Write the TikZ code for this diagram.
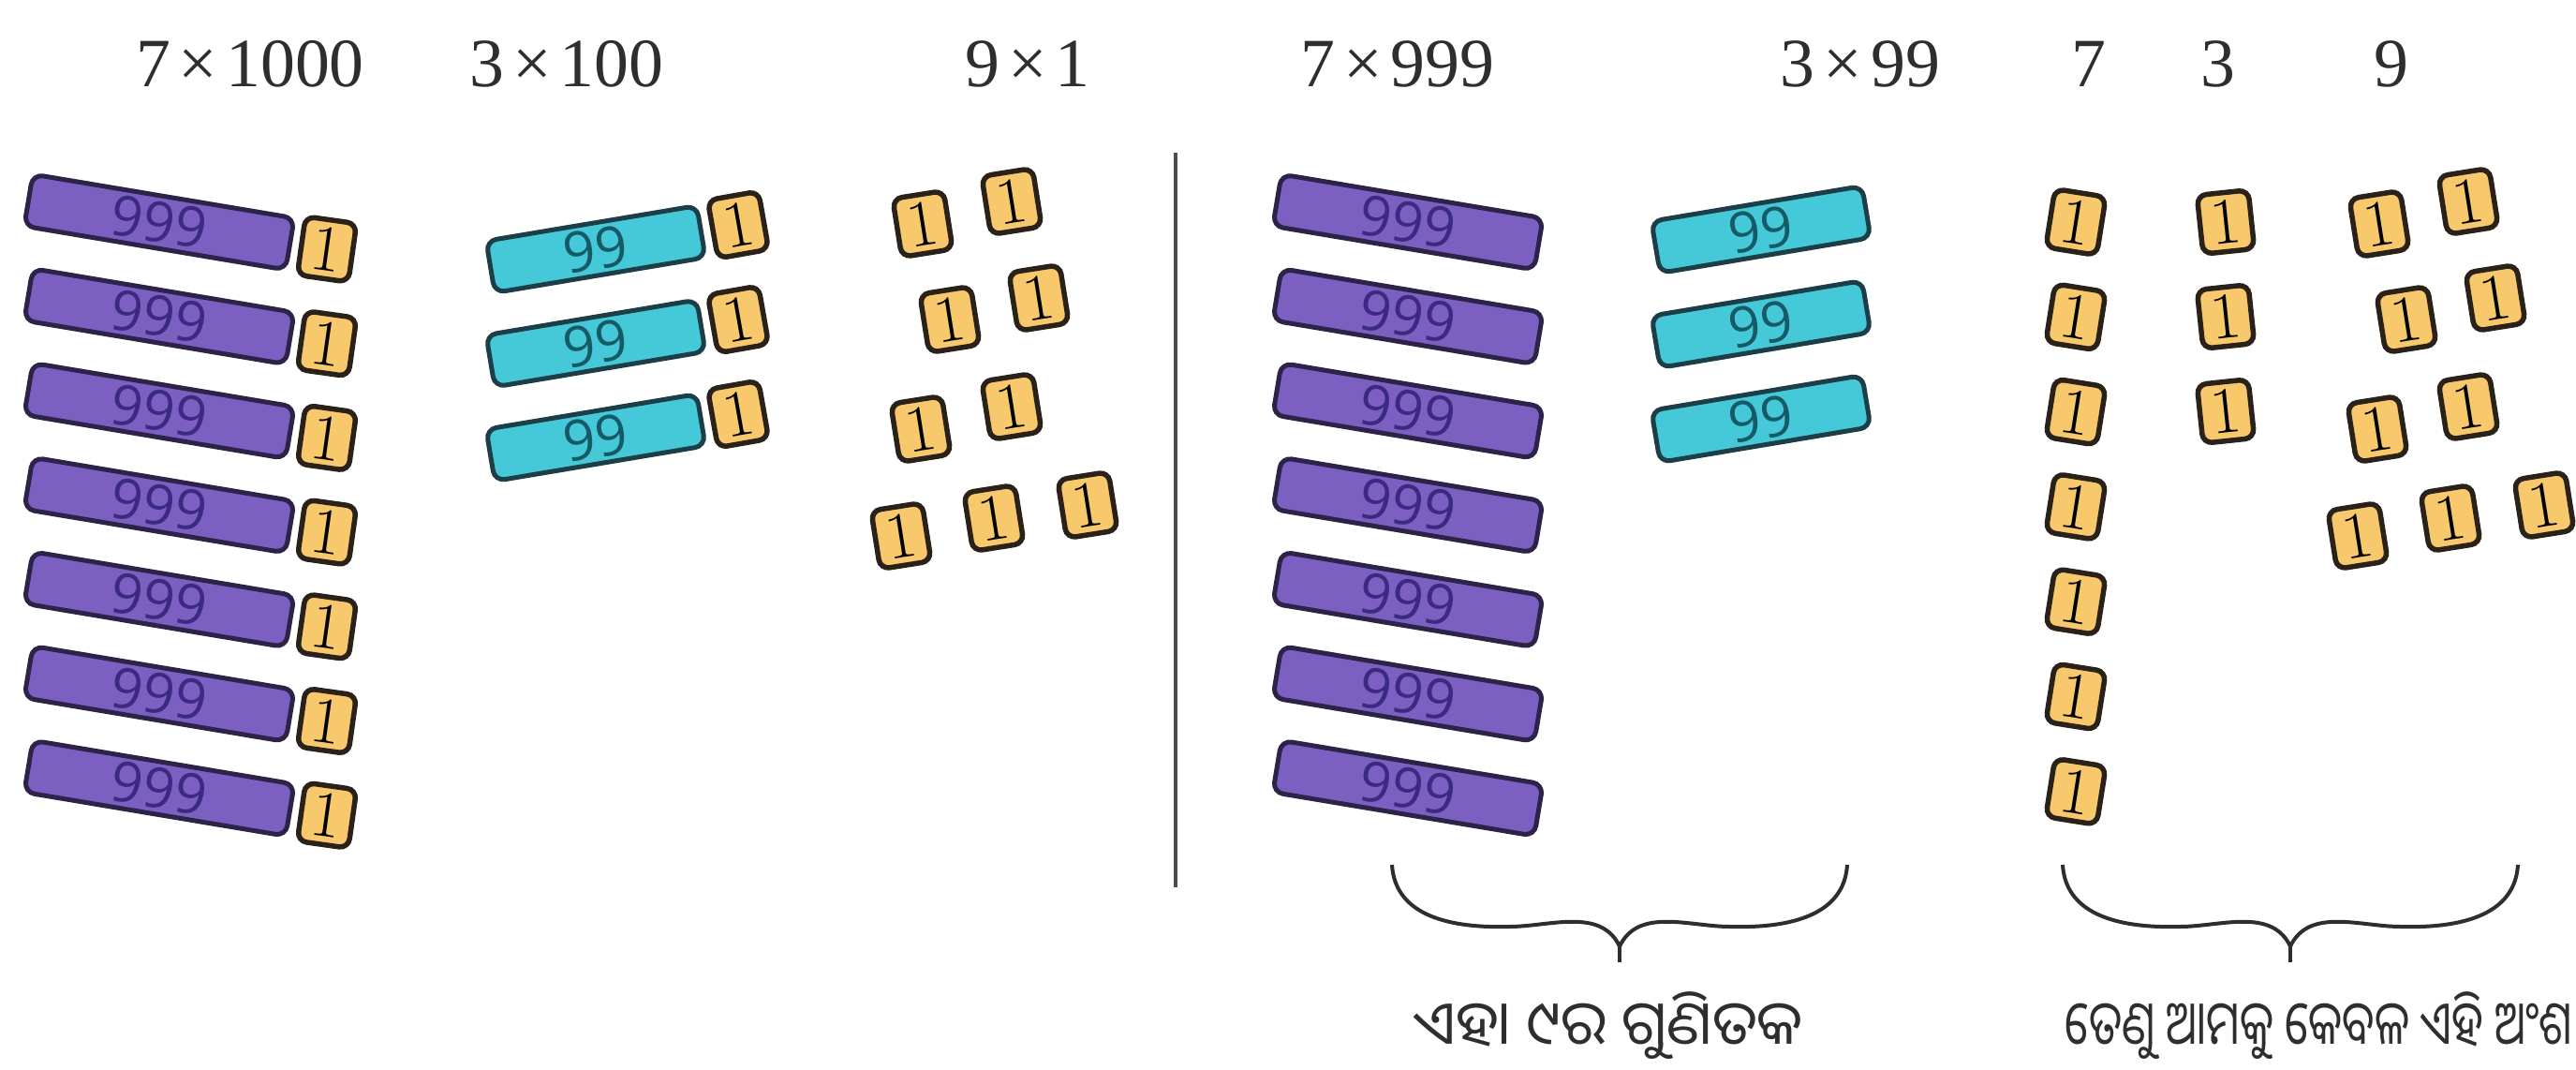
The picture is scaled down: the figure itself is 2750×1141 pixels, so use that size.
\documentclass[tikz,border=0pt]{standalone}
\usepackage{fontspec}
\newfontfamily\labfont{Liberation Serif}
\newfontfamily\barfont{Open Sans}
\newfontfamily\oriyafont[Script=Oriya]{Noto Sans Oriya UI}
\definecolor{pfill}{HTML}{7B60C2}
\definecolor{pline}{HTML}{2D2348}
\definecolor{ptext}{HTML}{3B2A80}
\definecolor{cfill}{HTML}{45C9D9}
\definecolor{cline}{HTML}{1C3F47}
\definecolor{ctext}{HTML}{155A66}
\definecolor{tfill}{HTML}{F8C86C}
\definecolor{tline}{HTML}{2A2118}
\definecolor{ink}{HTML}{2E2E2E}
\tikzset{
  pbar/.style={draw=pline, fill=pfill, line width=0.5mm, rounded corners=1.1mm,
    minimum width=28.3mm, minimum height=5.6mm, inner sep=0pt, rotate=-9.5,
    font=\barfont\fontsize{17}{17}\selectfont, text=ptext},
  cbar/.style={draw=cline, fill=cfill, line width=0.5mm, rounded corners=1.1mm,
    minimum width=22.8mm, minimum height=5.6mm, inner sep=0pt, rotate=9.5,
    font=\barfont\fontsize{17}{17}\selectfont, text=ctext},
  tile/.style={draw=tline, fill=tfill, line width=0.55mm, rounded corners=1mm,
    minimum width=5.5mm, minimum height=6.3mm, inner sep=0pt,
    font=\fontsize{20}{20}\selectfont, text=black},
  toplab/.style={anchor=base, inner sep=0pt, text=ink, font=\labfont\fontsize{21}{21}\selectfont},
  odia/.style={inner sep=0pt, text=ink, font=\oriyafont\fontsize{18.5}{22}\selectfont},
  bracestyle/.style={draw=ink, line width=0.4mm},
  divider/.style={draw=ink!85, line width=0.4mm},
  curly/.pic={
    \draw[bracestyle] (-243,0) .. controls (-240,50) and (-190,68) .. (-118,66)
      .. controls (-75,66) and (-20,45) .. (0,87)
      .. controls (20,45) and (75,66) .. (118,66)
      .. controls (190,68) and (240,50) .. (243,0);
    \draw[bracestyle] (0,85) -- (0,104);
  }
}
\begin{document}
\begin{tikzpicture}[x=0.1mm,y=-0.1mm]
\useasboundingbox (0,0) rectangle (2750,1141);

% top labels
\node[toplab] (l1) at (267,92) {7\hspace{0.12em}×\hspace{0.12em}1000};
\node[toplab] (l2) at (605,92) {3\hspace{0.12em}×\hspace{0.12em}100};
\node[toplab] (l3) at (1097,92) {9\hspace{0.12em}×\hspace{0.12em}1};
\node[toplab] (l4) at (1492,92) {7\hspace{0.12em}×\hspace{0.12em}999};
\node[toplab] (l5) at (1986,92) {3\hspace{0.12em}×\hspace{0.12em}99};
\node[toplab] (l6) at (2230,92) {7};
\node[toplab] (l7) at (2368,92) {3};
\node[toplab] (l8) at (2553,92) {9};

% left: 7 x 1000
\foreach \i in {0,...,6}{
  \node[pbar] (lp\i) at (170,237+100.7*\i) {999};
  \node[tile, rotate=-8] (lpt\i) at (349,266+100.7*\i) {1};
}
% left: 3 x 100
\foreach \i in {0,1,2}{
  \node[cbar] (lc\i) at (636,266+100.5*\i) {99};
  \node[tile, rotate=10] (lct\i) at (788,240+101*\i) {1};
}
% left: 9 x 1
\foreach \n/\x/\y in {a/985/239, b/1080/215, c/1014/341, d/1109/318, e/983/458, f/1080/434, g/962/572, h/1061/553, k/1161/539}{
  \node[tile, rotate=9] (lo\n) at (\x,\y) {1};
}

% divider
\coordinate (dtop) at (1255,163);
\coordinate (dbot) at (1255,947);
\draw[divider] (dtop) -- (dbot);

% right: 7 x 999
\foreach \i in {0,...,6}{
  \node[pbar] (rp\i) at (1503,237+100.7*\i) {999};
}
% right: 3 x 99
\foreach \i in {0,1,2}{
  \node[cbar] (rc\i) at (1880,245+101*\i) {99};
}
% right: 7 ones
\foreach \i in {0,...,6}{
  \node[tile, rotate=-9] (r7\i) at (2216,237+101.3*\i) {1};
}
% right: 3 ones
\foreach \i in {0,1,2}{
  \node[tile, rotate=6] (r3\i) at (2376,237+101*\i) {1};
}
% right: 9 ones
\foreach \n/\x/\y in {a/2540/239, b/2635/215, c/2569/341, d/2664/318, e/2538/458, f/2635/434, g/2517/572, h/2616/553, k/2716/539}{
  \node[tile, rotate=9] (ro\n) at (\x,\y) {1};
}

% braces
\pic (br1) at (1729,923) {curly};
\pic (br2) at (2445,923) {curly};

% texts
\node[odia, anchor=base] (t1) at (1717,1120) {ଏହା ୯ର ଗୁଣିତକ};
\node[odia, anchor=base west, xscale=0.735] (t2) at (2204,1120) {ତେଣୁ ଆମକୁ କେବଳ ଏହି ଅଂଶ};
\end{tikzpicture}
\end{document}
